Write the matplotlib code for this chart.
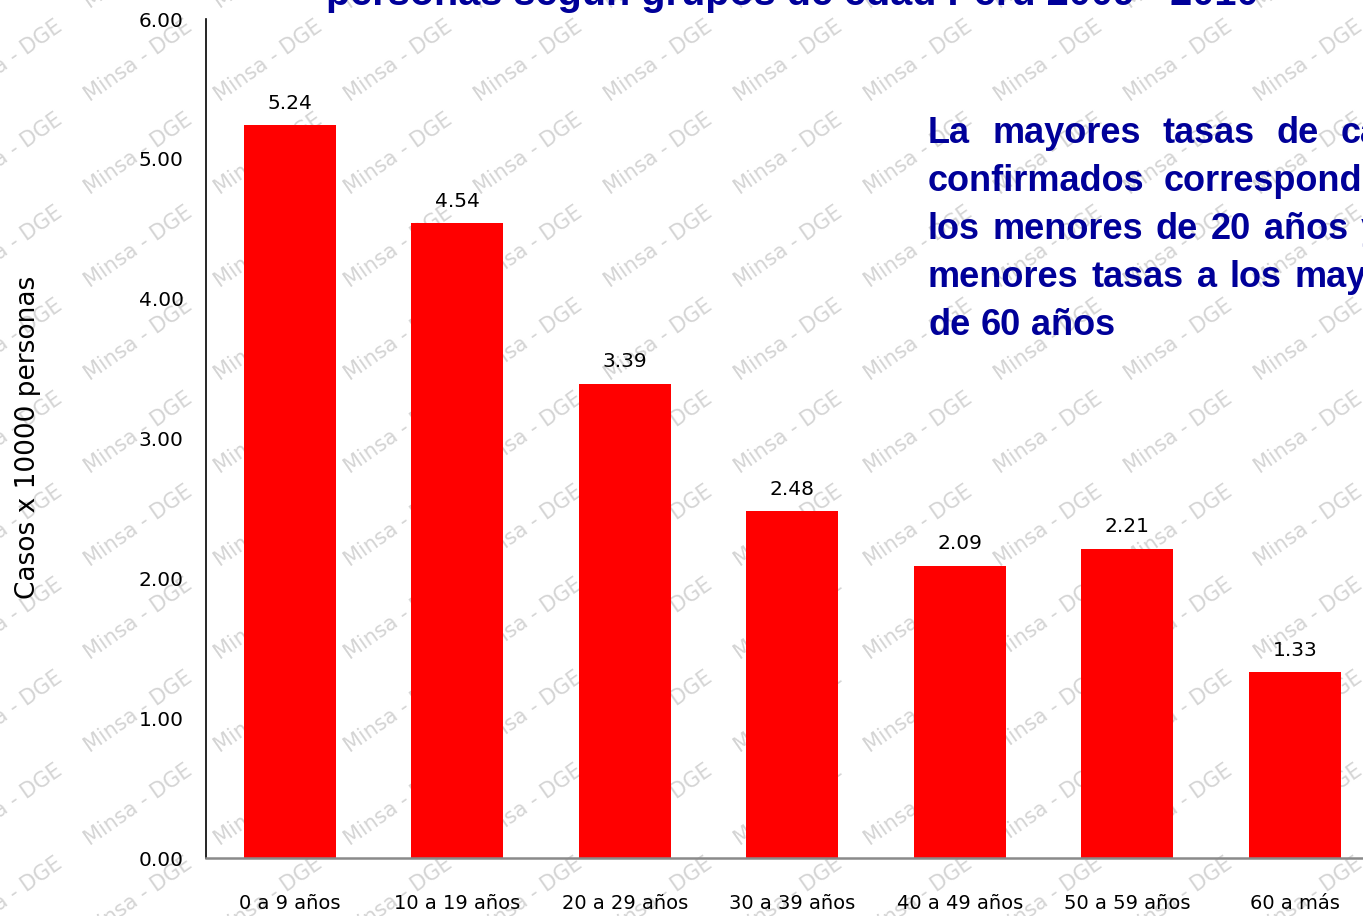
import matplotlib
matplotlib.use("Agg")
import matplotlib.pyplot as plt
from matplotlib import font_manager

# data
grupos = ["0 a 9 años", "10 a 19 años", "20 a 29 años", "30 a 39 años",
          "40 a 49 años", "50 a 59 años", "60 a más"]
tasas = [5.24, 4.54, 3.39, 2.48, 2.09, 2.21, 1.33]
y_ticks = [0, 1, 2, 3, 4, 5, 6]

titulo = "personas según grupos de edad Perú 2009 - 2010"
ylabel = "Casos x 10000 personas"
nota = ["La mayores tasas de casos",
        "confirmados corresponden a",
        "los menores de 20 años y las",
        "menores tasas a los mayores",
        "de 60 años"]
marca = "Minsa - DGE"

W, H = 1363, 916
azul = "#000099"

installed = {f.name for f in font_manager.fontManager.ttflist}
narrow = "Liberation Sans Narrow" if "Liberation Sans Narrow" in installed else "DejaVu Sans"

fig = plt.figure(figsize=(W / 100, H / 100), dpi=100)
fig.patch.set_facecolor("white")

# watermark grid behind everything
for i in range(-10, 3):
    for j in range(-5, 6):
        x = 1178 + 130 * i
        y = 433 + 93 * j
        fig.text(x / W, 1 - y / H, marca, rotation=35, color="#d4d4d4",
                 fontsize=15, ha="center", va="center", zorder=-1)

ax = fig.add_axes([206 / W, 58 / H, 7 * 167.5 / W, (858 - 19) / H])
ax.patch.set_alpha(0)

x = range(len(grupos))
bars = ax.bar(x, tasas, width=0.55, color="#ff0000", zorder=2)
for b, v in zip(bars, tasas):
    ax.annotate(f"{v:.2f}", (b.get_x() + b.get_width() / 2, v),
                xytext=(0, 9), textcoords="offset points",
                ha="center", va="bottom", fontsize=14.5, color="black")

ax.set_xlim(-0.5, len(grupos) - 0.5)
ax.set_ylim(0, 6)
ax.set_yticks(y_ticks)
ax.set_yticklabels([f"{t:.2f}" for t in y_ticks], fontsize=14.5)
ax.set_xticks(list(x))
ax.set_xticklabels(grupos, fontsize=14, family=narrow)
ax.tick_params(axis="y", length=0, pad=16)
ax.tick_params(axis="x", length=0, pad=26)

ax.spines["top"].set_visible(False)
ax.spines["right"].set_visible(False)
ax.spines["left"].set_color("black")
ax.spines["left"].set_linewidth(1.2)
ax.spines["bottom"].set_color("#8a8a8a")
ax.spines["bottom"].set_linewidth(1.8)

fig.text(28 / W, 1 - 437 / H, ylabel, rotation=90, fontsize=19,
         ha="center", va="center", color="black")

# title, cut at the top edge like the reference
fig.text(792 / W, 1 - 5 / H, titulo, fontsize=28.5, fontweight="bold",
         color=azul, ha="center", va="baseline", family="Liberation Sans")

# justified note text
renderer = fig.canvas.get_renderer()
left, target = 928, 515
for k, linea in enumerate(nota):
    yb = 1 - (143 + 48 * k) / H
    palabras = linea.split()
    arts = [fig.text(0, yb, p, fontsize=26, fontweight="bold", color=azul,
                     family="Liberation Sans", va="baseline")
            for p in palabras]
    widths = [a.get_window_extent(renderer).width for a in arts]
    space = fig.text(0, 0, "a a", fontsize=26, fontweight="bold",
                     family="Liberation Sans")
    sp = space.get_window_extent(renderer).width - 2 * fig.text(
        0, 0, "a", fontsize=26, fontweight="bold",
        family="Liberation Sans").get_window_extent(renderer).width
    for t in fig.texts[-2:]:
        t.remove()
    if k < len(nota) - 1 and len(palabras) > 1:
        gap = (target - sum(widths)) / (len(palabras) - 1)
    else:
        gap = sp
    xpos = left
    for a, w in zip(arts, widths):
        a.set_x(xpos / W)
        xpos += w + gap

fig.savefig("out.png", dpi=100)
